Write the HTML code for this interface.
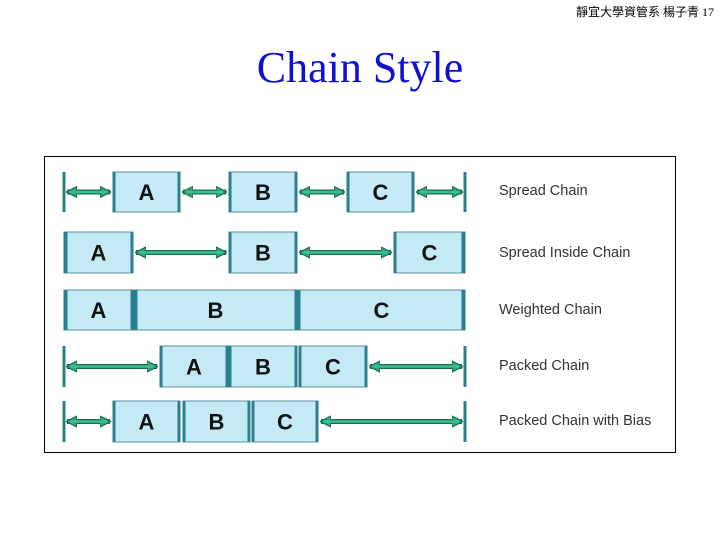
<!DOCTYPE html>
<html><head><meta charset="utf-8"><style>
body{margin:0;width:720px;height:540px;background:#fff;position:relative;overflow:hidden}
.hd{position:absolute;right:6px;top:3px;font:12px "Liberation Serif","WenQuanYi Zen Hei",serif;color:#000}
.tt{position:absolute;left:0;width:720px;top:42px;text-align:center;font:44px "Liberation Serif",serif;color:#1010d0}
</style></head><body>
<div class="hd">靜宜大學資管系 楊子青 17</div>
<div class="tt">Chain Style</div>
<svg width="720" height="540" style="position:absolute;left:0;top:0">
<defs>
<marker id="h" viewBox="0 0 10 10" refX="9" refY="5" markerWidth="2.2" markerHeight="2.4" orient="auto-start-reverse"><path d="M0,0L10,5L0,10z" fill="#2fa67c" stroke="#1a6b50"/></marker>
</defs>
<rect x="44.5" y="156.5" width="631" height="296" fill="none" stroke="#000" stroke-width="1"/>
<g id="g"></g>
<g font-family="Liberation Sans,sans-serif" font-size="14.5" fill="#333">
<text x="499" y="195">Spread Chain</text>
<text x="499" y="257">Spread Inside Chain</text>
<text x="499" y="314">Weighted Chain</text>
<text x="499" y="370">Packed Chain</text>
<text x="499" y="425">Packed Chain with Bias</text>
</g>
</svg>
<script>
var s='';
function bar(x,y,h){s+='<rect x="'+(x-1.5)+'" y="'+y+'" width="3" height="'+h+'" fill="#2b7f8e"/>';}
function box(x1,x2,y,h,t){s+='<rect x="'+x1+'" y="'+y+'" width="'+(x2-x1)+'" height="'+h+'" fill="#c4ebf5" stroke="#5a8f9c" stroke-width="1"/>';bar(x1+1,y,h);bar(x2-1,y,h);
s+='<text x="'+((x1+x2)/2)+'" y="'+(y+h/2+8)+'" text-anchor="middle" font-family="Liberation Sans,sans-serif" font-weight="bold" font-size="22" fill="#111">'+t+'</text>';}
function arr(x1,x2,y){s+='<line x1="'+(x1+2)+'" y1="'+y+'" x2="'+(x2-2)+'" y2="'+y+'" stroke="#1a6b50" stroke-width="5" marker-start="url(#h)" marker-end="url(#h)"/><line x1="'+(x1+5)+'" y1="'+y+'" x2="'+(x2-5)+'" y2="'+y+'" stroke="#3cc08f" stroke-width="2.5"/>';}
var y=172,h=40,m=y+h/2;bar(64,y,h);bar(465,y,h);box(113,180,y,h,'A');box(229,297,y,h,'B');box(347,414,y,h,'C');
arr(65,112,m);arr(181,228,m);arr(298,346,m);arr(415,464,m);
y=232;h=41;m=y+h/2;box(64,133,y,h,'A');box(229,297,y,h,'B');box(394,465,y,h,'C');bar(66,y,h);bar(463,y,h);arr(134,228,m);arr(298,393,m);
y=290;h=40;box(64,133,y,h,'A');box(134,297,y,h,'B');box(298,465,y,h,'C');bar(66,y,h);bar(463,y,h);bar(136,y,h);bar(296,y,h);
y=346;h=41;m=y+h/2;bar(64,y,h);bar(465,y,h);box(160,228,y,h,'A');box(229,297,y,h,'B');box(299,367,y,h,'C');arr(65,159,m);arr(368,464,m);
y=401;h=41;m=y+h/2;bar(64,y,h);bar(465,y,h);box(113,180,y,h,'A');box(183,250,y,h,'B');box(252,318,y,h,'C');arr(65,112,m);arr(319,464,m);
document.getElementById('g').innerHTML=s;
</script>
</body></html>
